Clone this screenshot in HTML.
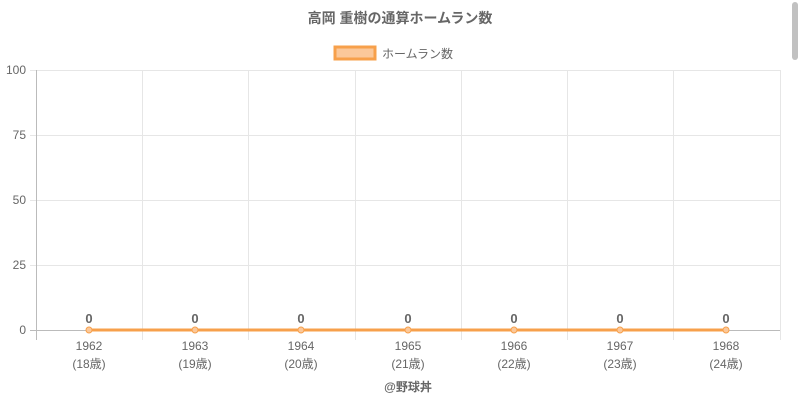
<!DOCTYPE html>
<html><head><meta charset="utf-8"><style>
body{margin:0;width:800px;height:400px;background:#fff;overflow:hidden;font-family:"Liberation Sans","Noto Sans CJK JP",sans-serif;}
</style></head><body>
<svg width="800" height="400" xmlns="http://www.w3.org/2000/svg" font-family="Liberation Sans, Noto Sans CJK JP, sans-serif">
<rect x="792" y="2" width="6" height="58" rx="3" fill="#c1c1c1"/>
<text x="400" y="23" text-anchor="middle" font-size="14" font-weight="bold" fill="#666">高岡 重樹の通算ホームラン数</text>
<rect x="335" y="47" width="40" height="12" fill="#fbc89a" stroke="#f7a04b" stroke-width="3"/>
<text x="382" y="58" font-size="12" fill="#666">ホームラン数</text>
<g stroke="#e6e6e6" stroke-width="1">
<line x1="36" y1="70.5" x2="780" y2="70.5"/>
<line x1="36" y1="135.5" x2="780" y2="135.5"/>
<line x1="36" y1="200.5" x2="780" y2="200.5"/>
<line x1="36" y1="265.5" x2="780" y2="265.5"/>
<line x1="142.5" y1="70" x2="142.5" y2="340"/>
<line x1="248.5" y1="70" x2="248.5" y2="340"/>
<line x1="355.5" y1="70" x2="355.5" y2="340"/>
<line x1="461.5" y1="70" x2="461.5" y2="340"/>
<line x1="567.5" y1="70" x2="567.5" y2="340"/>
<line x1="673.5" y1="70" x2="673.5" y2="340"/>
<line x1="780.5" y1="70" x2="780.5" y2="340"/>
<line x1="30" y1="70.5" x2="36" y2="70.5"/>
<line x1="30" y1="135.5" x2="36" y2="135.5"/>
<line x1="30" y1="200.5" x2="36" y2="200.5"/>
<line x1="30" y1="265.5" x2="36" y2="265.5"/>
</g>
<line x1="36.5" y1="70" x2="36.5" y2="340" stroke="#bbb"/>
<line x1="30" y1="330.5" x2="780" y2="330.5" stroke="#bbb"/>
<g font-size="12" fill="#666" text-anchor="end">
<text x="26" y="74">100</text><text x="26" y="139">75</text><text x="26" y="204">50</text><text x="26" y="269">25</text><text x="26" y="334">0</text>
</g>
<line x1="89" y1="330" x2="726" y2="330" stroke="#f7a04b" stroke-width="3"/>
<g fill="#fbc89a" stroke="#f7a04b" stroke-width="1">
<circle cx="89" cy="330" r="3"/><circle cx="195" cy="330" r="3"/><circle cx="301" cy="330" r="3"/><circle cx="408" cy="330" r="3"/><circle cx="514" cy="330" r="3"/><circle cx="620" cy="330" r="3"/><circle cx="726" cy="330" r="3"/>
</g>
<g font-size="13" font-weight="bold" fill="#666" text-anchor="middle">
<text x="89" y="323">0</text><text x="195" y="323">0</text><text x="301" y="323">0</text><text x="408" y="323">0</text><text x="514" y="323">0</text><text x="620" y="323">0</text><text x="726" y="323">0</text>
</g>
<g font-size="12" fill="#666" text-anchor="middle">
<text x="89" y="350">1962</text><text x="89" y="368">(18歳)</text>
<text x="195" y="350">1963</text><text x="195" y="368">(19歳)</text>
<text x="301" y="350">1964</text><text x="301" y="368">(20歳)</text>
<text x="408" y="350">1965</text><text x="408" y="368">(21歳)</text>
<text x="514" y="350">1966</text><text x="514" y="368">(22歳)</text>
<text x="620" y="350">1967</text><text x="620" y="368">(23歳)</text>
<text x="726" y="350">1968</text><text x="726" y="368">(24歳)</text>
</g>
<text x="408" y="391" text-anchor="middle" font-size="12" font-weight="bold" fill="#666">@野球丼</text>
</svg>
</body></html>
